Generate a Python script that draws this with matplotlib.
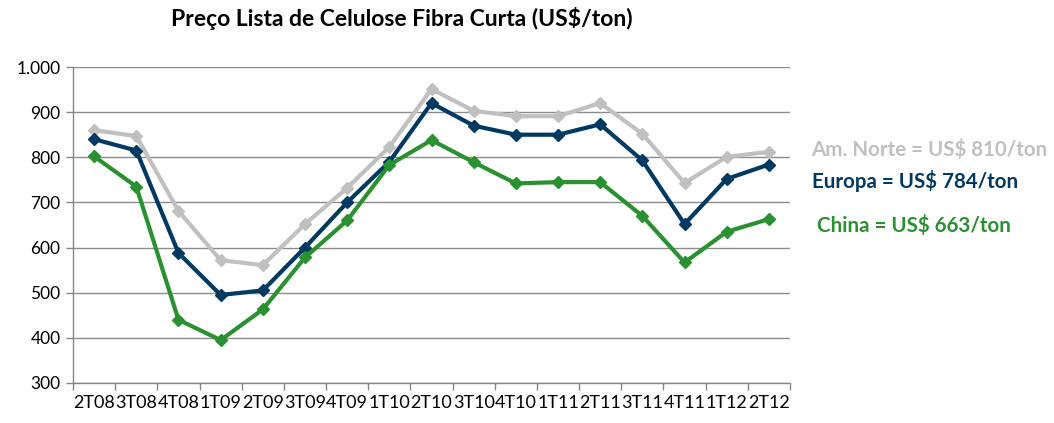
import matplotlib
matplotlib.use("Agg")
import matplotlib.pyplot as plt
import numpy as np

categories = ["2T08", "3T08", "4T08", "1T09", "2T09", "3T09", "4T09", "1T10", "2T10",
              "3T10", "4T10", "1T11", "2T11", "3T11", "4T11", "1T12", "2T12"]
am_norte = [860, 847, 681, 572, 561, 652, 732, 823, 951, 903, 891, 891, 920, 852, 743, 801, 812]
europa = [840, 815, 588, 495, 505, 600, 700, 790, 920, 870, 850, 850, 873, 793, 652, 752, 784]
china = [802, 735, 440, 395, 463, 578, 660, 783, 838, 789, 742, 745, 745, 670, 567, 635, 663]
y_ticks = [300, 400, 500, 600, 700, 800, 900, 1000]
y_labels = ["300", "400", "500", "600", "700", "800", "900", "1.000"]

c_gray = "#C0C0C0"
c_navy = "#003A63"
c_green = "#2A9131"

plt.rcParams['font.family'] = ['Lato', 'DejaVu Sans']

fig = plt.figure(figsize=(10.54, 4.23), dpi=100)
ax = fig.add_axes([0.0693, 0.0946, 0.6802, 0.747])
x = np.arange(len(categories))

for vals, col in [(am_norte, c_gray), (europa, c_navy), (china, c_green)]:
    ax.plot(x, vals, color=col, lw=3.0, marker="D", ms=6, mec=col, mfc=col, zorder=3)

ax.set_xlim(-0.5, len(categories) - 0.5)
ax.set_ylim(300, 1000)
ax.set_yticks(y_ticks)
ax.set_yticklabels(y_labels, fontsize=12.5)
ax.set_xticks(x)
ax.set_xticklabels(categories, fontsize=13)
ax.set_xticks(np.arange(-0.5, len(categories), 1.0), minor=True)
ax.tick_params(axis="x", which="major", length=0, pad=9)
ax.tick_params(axis="x", which="minor", length=5, color="#868686", width=1)
ax.tick_params(axis="y", length=5, color="#868686", width=1, pad=4)
ax.grid(axis="y", color="#8C8C8C", lw=1)
ax.set_axisbelow(True)
for s in ["top", "right"]:
    ax.spines[s].set_visible(False)
for s in ["left", "bottom"]:
    ax.spines[s].set_color("#868686")
    ax.spines[s].set_linewidth(1)

fig.text(0.381, 0.957, "Preço Lista de Celulose Fibra Curta (US$/ton)", ha="center", va="center",
         fontsize=16.5, fontweight="bold", color="black")

fig.text(0.770, 0.647, "Am. Norte = US$ 810/ton", fontsize=14.8, fontweight="bold", color=c_gray, va="center")
fig.text(0.770, 0.572, "Europa = US$ 784/ton", fontsize=14.8, fontweight="bold", color=c_navy, va="center")
fig.text(0.775, 0.468, "China = US$ 663/ton", fontsize=14.8, fontweight="bold", color=c_green, va="center")

fig.savefig("out.png", dpi=100)
